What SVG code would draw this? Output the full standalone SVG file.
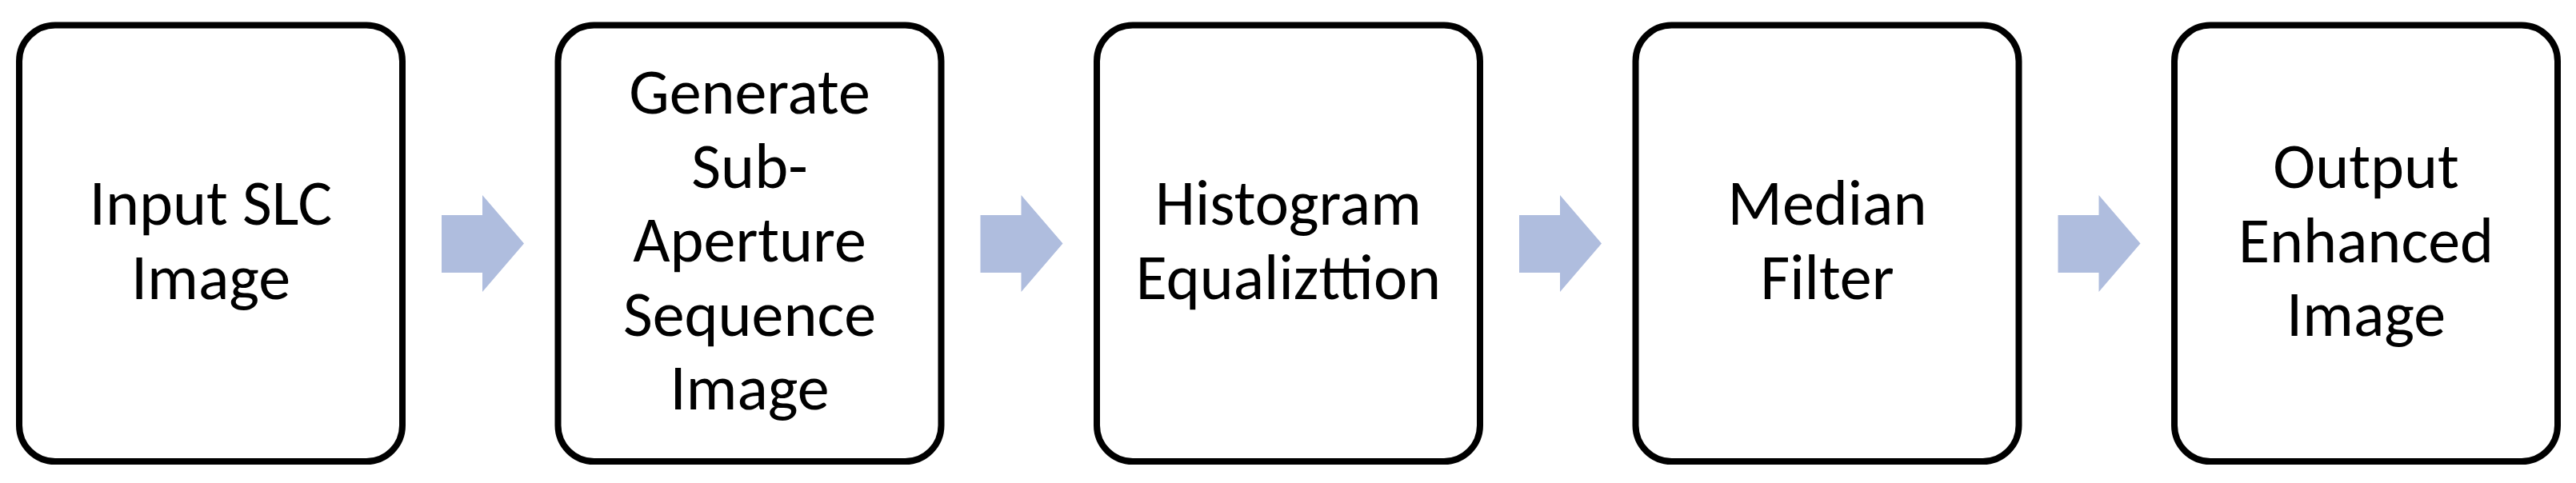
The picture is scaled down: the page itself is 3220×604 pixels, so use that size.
<svg xmlns="http://www.w3.org/2000/svg" width="3220" height="604" viewBox="0 0 3220 604">
<style>
.box{fill:#ffffff;stroke:#000000;stroke-width:8}
.lbl{font-family:Carlito,Calibri,Lato,"Open Sans",sans-serif;font-size:80px;fill:#000000;text-anchor:middle}
.arr{fill:#AFBDDE}
</style>
<rect width="3220" height="604" fill="#ffffff"/>
<g id="connectors">
<polygon class="arr" points="552,269 603,269 603,244 655,304.5 603,365 603,341 552,341"/>
<polygon class="arr" transform="translate(673.5,0)" points="552,269 603,269 603,244 655,304.5 603,365 603,341 552,341"/>
<polygon class="arr" transform="translate(1347,0)" points="552,269 603,269 603,244 655,304.5 603,365 603,341 552,341"/>
<polygon class="arr" transform="translate(2020.5,0)" points="552,269 603,269 603,244 655,304.5 603,365 603,341 552,341"/>
</g>
<g id="node1">
<rect class="box" x="24" y="31.5" width="479" height="545.5" rx="45" ry="45"/>
<text class="lbl" x="263.5" y="281">Input SLC</text>
<text class="lbl" x="263.5" y="373.5">Image</text>
</g>
<g id="node2">
<rect class="box" x="697.5" y="31.5" width="479" height="545.5" rx="45" ry="45"/>
<text class="lbl" x="937" y="142">Generate</text>
<text class="lbl" x="937" y="234.5">Sub-</text>
<text class="lbl" x="937" y="327">Aperture</text>
<text class="lbl" x="937" y="419.5">Sequence</text>
<text class="lbl" x="937" y="512">Image</text>
</g>
<g id="node3">
<rect class="box" x="1371" y="31.5" width="479" height="545.5" rx="45" ry="45"/>
<text class="lbl" x="1610.5" y="281">Histogram</text>
<text class="lbl" x="1610.5" y="373.5">Equalizttion</text>
</g>
<g id="node4">
<rect class="box" x="2044.5" y="31.5" width="479" height="545.5" rx="45" ry="45"/>
<text class="lbl" x="2284" y="281">Median</text>
<text class="lbl" x="2284" y="373.5">Filter</text>
</g>
<g id="node5">
<rect class="box" x="2718" y="31.5" width="479" height="545.5" rx="45" ry="45"/>
<text class="lbl" x="2957.5" y="235">Output</text>
<text class="lbl" x="2957.5" y="327.5">Enhanced</text>
<text class="lbl" x="2957.5" y="420">Image</text>
</g>
</svg>
